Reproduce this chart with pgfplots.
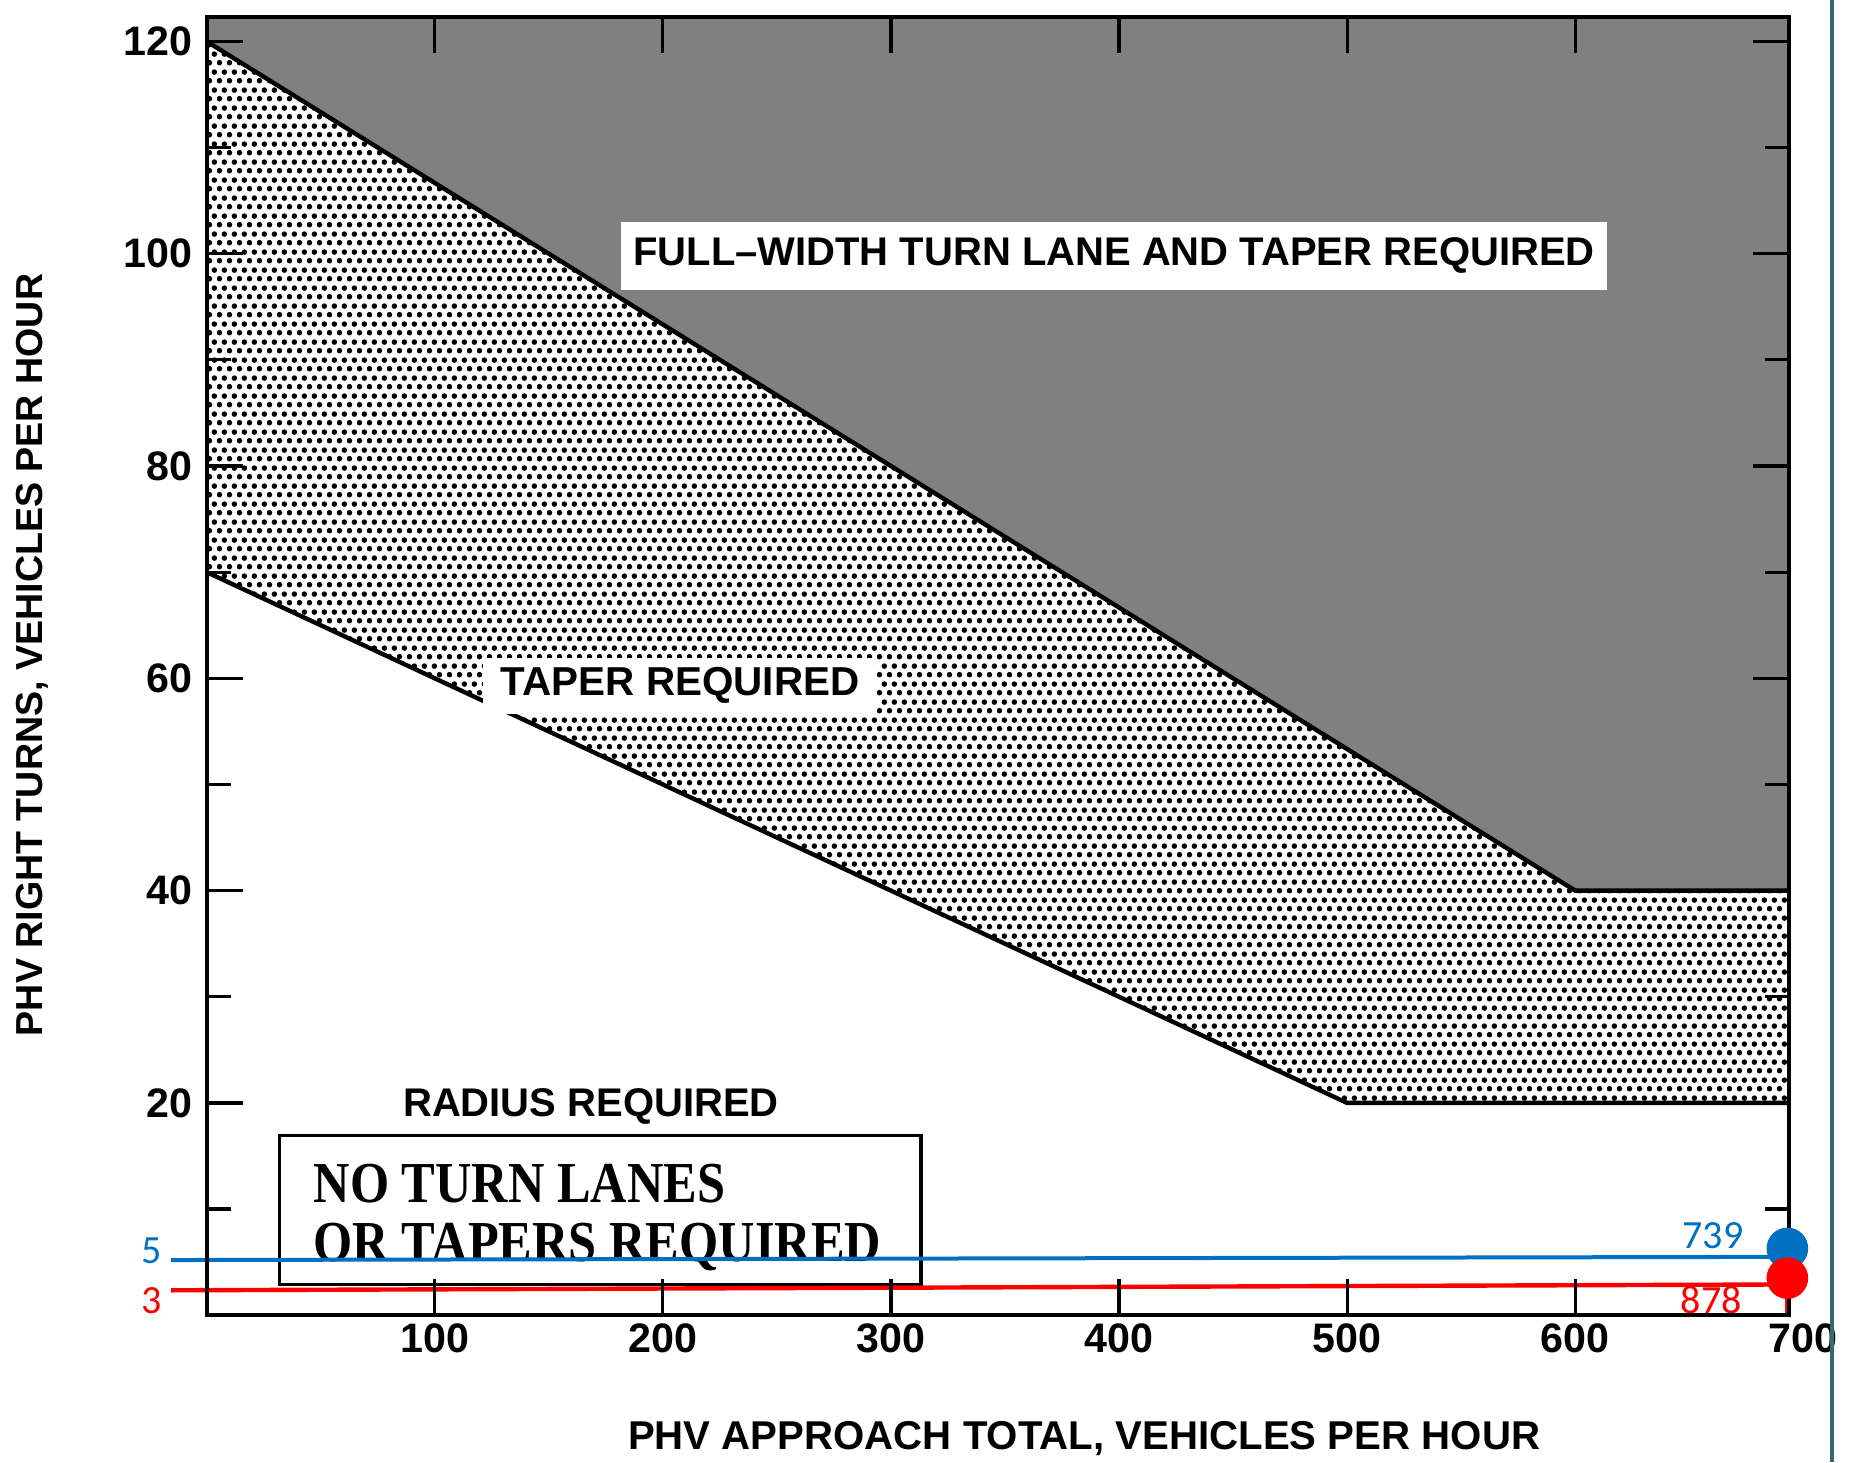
\documentclass[border=0pt]{standalone}
\usepackage{fontspec}
\setmainfont{Liberation Sans}
\newfontfamily\timesb{Liberation Serif}
\newfontfamily\calib{Carlito}
\usepackage{pgfplots}
\pgfplotsset{compat=1.18}
\usetikzlibrary{patterns.meta}
\definecolor{offblue}{RGB}{0,112,192}
\definecolor{tealline}{RGB}{50,108,108}
\tikzdeclarepattern{
  name=halfdots,
  type=uncolored,
  bounding box={(0pt,0pt) and (2.6pt,4.4pt)},
  tile size={(2.6pt,4.4pt)},
  code={
    \fill (0.65pt,1.1pt) circle (0.72pt);
    \fill (1.95pt,3.3pt) circle (0.72pt);
  }
}
\begin{document}
\begin{tikzpicture}
\begin{axis}[
  scale only axis,
  width=395.5pt, height=324.6pt,
  xmin=0, xmax=693.5, ymin=0, ymax=122.3,
  xtick={100,200,300,400,500,600},
  ytick={20,40,60,80,100,120},
  minor ytick={10,30,50,70,90,110},
  tick align=inside,
  major tick length=9pt, minor tick length=6pt,
  tick style={black, line width=0.8pt},
  axis line style={line width=1pt},
  axis on top,
  ticklabel style={font=\bfseries\fontsize{10.3}{11}\selectfont},
  xticklabel style={yshift=1.5pt},
  /pgf/number format/assume math mode=true,
  clip=false,
]
% taper region (dotted)
\addplot[draw=none, pattern=halfdots, pattern color=black]
  coordinates {(0,70) (500,20) (693.5,20) (693.5,40) (600,40) (0,120)};
% full-width region (dark)
\addplot[draw=none, fill=black!50]
  coordinates {(0,120) (600,40) (693.5,40) (693.5,122.3) (0,122.3)};
% boundaries
\addplot[black, line width=1.1pt] coordinates {(0,120) (600,40) (693.5,40)};
\addplot[black, line width=1.1pt] coordinates {(0,70) (500,20) (693.5,20)};

% tick label at the right corner
\node[anchor=north, inner sep=0.333em, yshift=1.5pt, font=\bfseries\fontsize{10.3}{11}\selectfont]
  at (axis cs:700,0) {700};

% region labels
\node[fill=white, inner xsep=3pt, inner ysep=4pt, font=\bfseries\fontsize{10}{12}\selectfont]
  at (axis cs:397.8,99.8) {FULL–WIDTH TURN LANE AND TAPER REQUIRED};
\node[fill=white, inner xsep=4.5pt, inner ysep=2.5pt, font=\bfseries\fontsize{10.1}{12}\selectfont]
  at (axis cs:207.6,59.3) {TAPER REQUIRED};
\node[inner sep=0pt, font=\bfseries\fontsize{10}{12}\selectfont]
  at (axis cs:168.5,19.7) {RADIUS REQUIRED};
\draw[line width=0.8pt] (axis cs:32.1,2.9) rectangle (axis cs:313.2,16.9);
\node[anchor=base west, inner sep=0pt, font=\timesb\bfseries\fontsize{12.6}{14}\selectfont]
  at (axis cs:46.6,10.6) {\scalebox{1}[1.15]{NO TURN LANES}};
\node[anchor=base west, inner sep=0pt, font=\timesb\bfseries\fontsize{12.6}{14}\selectfont]
  at (axis cs:46.6,5.1) {\scalebox{1}[1.15]{OR TAPERS REQUIRED}};

% axis titles
\node[inner sep=0pt, font=\bfseries\fontsize{10.05}{12}\selectfont] at (axis cs:384.7,-11.6)
  {PHV APPROACH TOTAL, VEHICLES PER HOUR};
\node[inner sep=0pt, rotate=90, font=\bfseries\fontsize{9.4}{11}\selectfont] at (axis cs:-76.5,62.2)
  {PHV RIGHT TURNS, VEHICLES PER HOUR};

% annotations
\addplot[offblue, line width=1pt] coordinates {(-15.6,5.2) (693,5.5)};
\addplot[red, line width=1.1pt] coordinates {(-15.6,2.35) (693,2.9)};
\addplot[red, line width=1.1pt] coordinates {(693,3.5) (693,0)};
\addplot[only marks, mark=*, mark size=5pt, color=offblue, fill=offblue] coordinates {(693,6.3)};
\addplot[only marks, mark=*, mark size=5pt, color=red, fill=red] coordinates {(693,3.5)};
\node[inner sep=0pt, text=offblue, font=\calib\fontsize{10}{12}\selectfont] at (axis cs:660.4,7.5) {739};
\node[inner sep=0pt, text=red, font=\calib\fontsize{10}{12}\selectfont] at (axis cs:659.6,1.4) {878};
\node[inner sep=0pt, text=offblue, font=\calib\fontsize{10}{12}\selectfont] at (axis cs:-24,6.1) {5};
\node[inner sep=0pt, text=red, font=\calib\fontsize{10}{12}\selectfont] at (axis cs:-24,1.4) {3};

% right frame line of the screenshot
\draw[tealline, line width=1pt] (axis cs:712.6,-13.85) -- (axis cs:712.6,123.9);
% picture extent
\coordinate (bbSW) at (axis cs:-90.6,-13.85);
\coordinate (bbNE) at (axis cs:720.9,123.9);
\end{axis}
\pgfresetboundingbox
\path[use as bounding box] (bbSW) rectangle (bbNE);
\end{tikzpicture}
\end{document}
